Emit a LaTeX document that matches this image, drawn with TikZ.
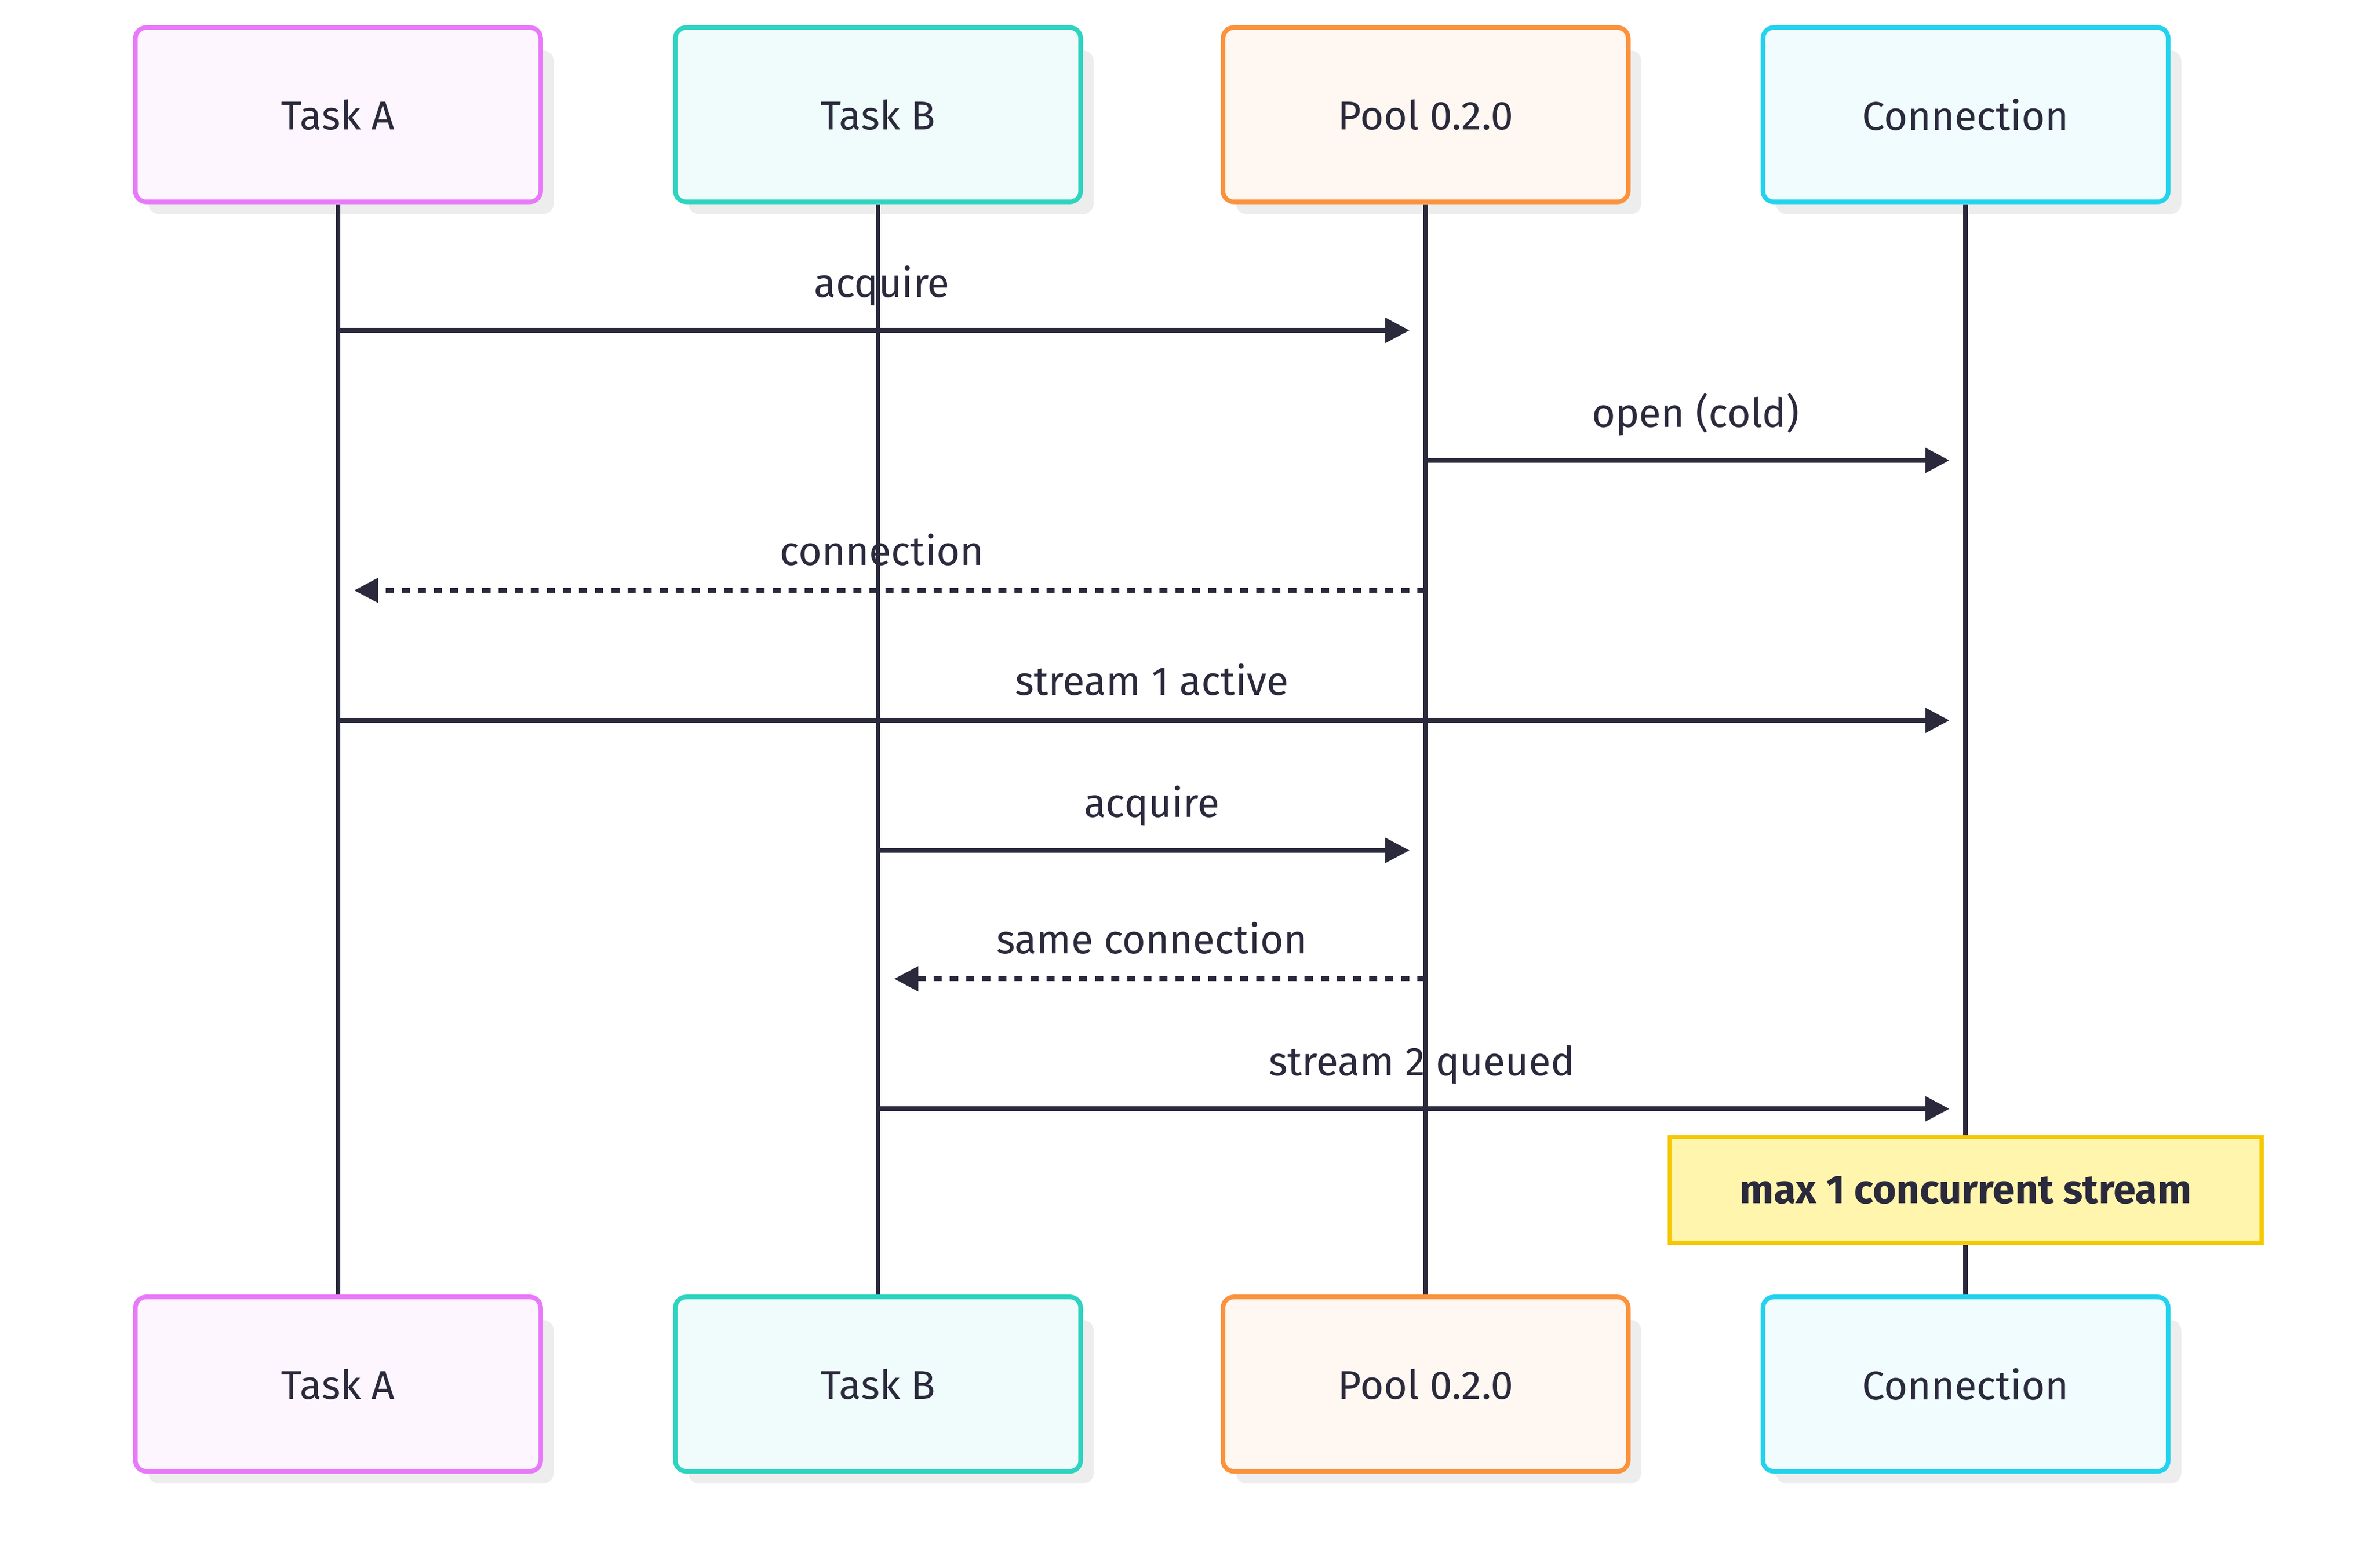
\documentclass[tikz,border=0pt]{standalone}
\usepackage{fontspec}
\setmainfont{Fira Sans}
\usetikzlibrary{arrows.meta}
\definecolor{ink}{HTML}{2A2A3C}
\definecolor{notefill}{HTML}{FFF5AD}
\definecolor{notedraw}{HTML}{F5C800}
\begin{document}
\begin{tikzpicture}[x=0.02cm,y=-0.02cm,
  actor/.style={draw=#1,fill=#1!7,line width=1.7pt,rounded corners=4pt,minimum width=5.3cm,minimum height=2.28cm,font=\fontsize{15}{17}\selectfont,text=ink},
  life/.style={draw=ink,line width=1.7pt},
  msg/.style={draw=ink,line width=1.7pt,-{Triangle[length=9pt,width=9pt]},shorten >=6pt},
  ret/.style={msg,dash pattern=on 3pt off 3pt},
  lbl/.style={font=\fontsize{15}{17}\selectfont,text=ink},
  note/.style={draw=notedraw,fill=notefill,line width=1.5pt,minimum width=7.74cm,minimum height=1.38cm,font=\bfseries\fontsize{15}{17}\selectfont,text=ink}]
\useasboundingbox (0,0) rectangle (1552,1025);
\definecolor{ca}{HTML}{E879F9}\definecolor{cb}{HTML}{2DD4BF}
\definecolor{cp}{HTML}{FB923C}\definecolor{cc}{HTML}{22D3EE}
\foreach \n/\x/\c/\t in {a/221/ca/Task A,b/574/cb/Task B,p/932/cp/Pool 0.2.0,c/1285/cc/Connection}{
  \fill[black!7,rounded corners=4pt] (\x-124,33) rectangle (\x+141,140);
  \fill[black!7,rounded corners=4pt] (\x-124,863) rectangle (\x+141,970);
  \node[actor=\c] (\n1) at (\x,75) {\t};
  \node[actor=\c] (\n2) at (\x,905) {\t};
  \draw[life] (\n1) -- (\n2);
}
\foreach \n/\x in {a/221,b/574,p/932,c/1285}{
  \foreach \y/\k in {216/1,301/2,386/3,471/4,556/5,640/6,725/7}{
    \coordinate (\n\k) at (\x,\y);}}
\draw[msg] (a1) -- (p1) node[lbl,midway,above=5pt] {acquire};
\draw[msg] (p2) -- (c2) node[lbl,midway,above=5pt] {open (cold)};
\draw[ret] (p3) -- (a3) node[lbl,midway,above=5pt] {connection};
\draw[msg] (a4) -- (c4) node[lbl,midway,above=5pt] {stream 1 active};
\draw[msg] (b5) -- (p5) node[lbl,midway,above=5pt] {acquire};
\draw[ret] (p6) -- (b6) node[lbl,midway,above=5pt] {same connection};
\draw[msg] (b7) -- (c7) node[lbl,midway,above=5pt] {stream 2 queued};
\node[note] (n) at (1285,778) {max 1 concurrent stream};
\end{tikzpicture}
\end{document}
